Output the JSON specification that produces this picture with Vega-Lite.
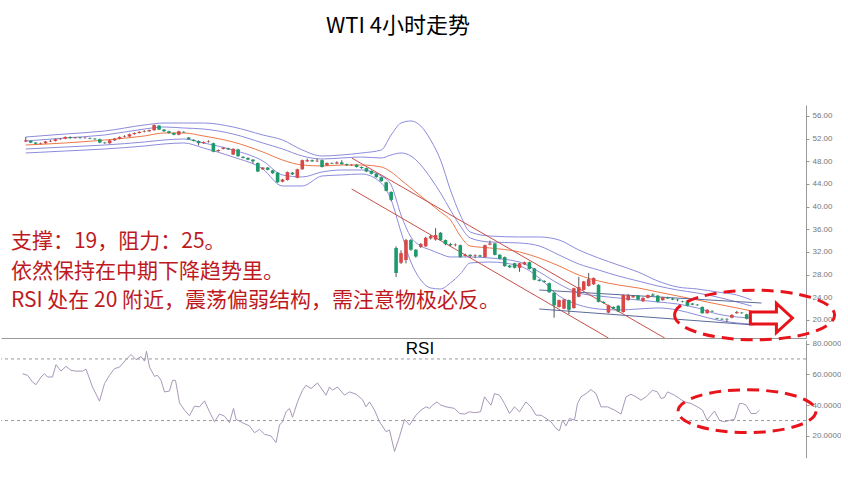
{
  "$schema": "https://vega.github.io/schema/vega-lite/v6.json",
  "background": "white",
  "padding": {"left": 0, "top": 15, "right": 0, "bottom": 0},
  "bounds": "flush",
  "spacing": 2,
  "title": {"text": "WTI 4小时走势", "anchor": "start", "frame": "group", "dx": 325, "offset": 67, "fontSize": 22, "font": "Noto Sans CJK SC", "fontWeight": "normal", "color": "#000000"},
  "datasets": {
    "candles": [
      {"t":0,"o":51.5,"c":51.7,"h":52.3,"l":51.4},{"t":1,"o":51.6,"c":51.3,"h":51.7,"l":51.2},{"t":2,"o":51.3,"c":51.1,"h":51.4,"l":51.0},{"t":3,"o":51.1,"c":51.2,"h":51.3,"l":51.0},
      {"t":4,"o":51.2,"c":51.5,"h":51.6,"l":51.1},{"t":5,"o":51.5,"c":51.6,"h":51.8,"l":51.4},{"t":6,"o":51.6,"c":51.9,"h":52.0,"l":51.5},{"t":7,"o":51.9,"c":52.0,"h":52.1,"l":51.8},
      {"t":8,"o":52.0,"c":52.3,"h":52.4,"l":51.9},{"t":9,"o":52.3,"c":52.1,"h":52.4,"l":52.0},{"t":10,"o":52.1,"c":52.2,"h":52.3,"l":52.0},{"t":11,"o":52.2,"c":52.1,"h":52.3,"l":52.0},
      {"t":12,"o":52.1,"c":52.15,"h":52.3,"l":52.0},{"t":13,"o":52.1,"c":52.0,"h":52.2,"l":51.9},{"t":14,"o":52.0,"c":51.9,"h":52.1,"l":51.8},{"t":15,"o":51.9,"c":51.3,"h":52.0,"l":51.2},
      {"t":16,"o":51.3,"c":51.2,"h":51.4,"l":51.1},{"t":17,"o":51.2,"c":51.7,"h":51.8,"l":51.1},{"t":18,"o":51.7,"c":52.0,"h":52.1,"l":51.6},{"t":19,"o":52.0,"c":52.3,"h":52.4,"l":51.9},
      {"t":20,"o":52.3,"c":52.4,"h":52.6,"l":52.2},{"t":21,"o":52.4,"c":52.8,"h":52.9,"l":52.3},{"t":22,"o":52.8,"c":53.0,"h":53.1,"l":52.7},{"t":23,"o":53.0,"c":53.2,"h":53.3,"l":52.9},
      {"t":24,"o":53.2,"c":53.3,"h":53.5,"l":53.1},{"t":25,"o":53.3,"c":53.5,"h":53.6,"l":53.2},{"t":26,"o":53.5,"c":54.4,"h":54.5,"l":53.4},{"t":27,"o":54.3,"c":53.6,"h":54.4,"l":53.5},
      {"t":28,"o":53.6,"c":53.3,"h":53.7,"l":53.2},{"t":29,"o":53.3,"c":53.0,"h":53.4,"l":52.9},{"t":30,"o":53.0,"c":52.7,"h":53.1,"l":52.6},{"t":31,"o":52.7,"c":53.3,"h":53.4,"l":52.6},
      {"t":32,"o":53.2,"c":53.1,"h":53.3,"l":53.0},{"t":33,"o":52.2,"c":51.9,"h":52.3,"l":51.8},{"t":34,"o":51.8,"c":51.6,"h":51.9,"l":51.5},{"t":35,"o":51.6,"c":51.2,"h":51.7,"l":50.8},
      {"t":36,"o":51.2,"c":51.4,"h":51.5,"l":51.1},{"t":37,"o":51.4,"c":51.5,"h":51.7,"l":51.3},{"t":38,"o":51.2,"c":49.7,"h":51.3,"l":49.6},{"t":39,"o":49.8,"c":50.0,"h":50.1,"l":49.7},
      {"t":40,"o":50.2,"c":50.4,"h":50.5,"l":50.1},{"t":41,"o":50.3,"c":50.1,"h":50.4,"l":50.0},{"t":42,"o":49.2,"c":50.2,"h":50.3,"l":49.1},{"t":43,"o":50.1,"c":48.9,"h":50.2,"l":48.8},
      {"t":44,"o":48.8,"c":48.6,"h":48.9,"l":48.5},{"t":45,"o":48.6,"c":48.3,"h":48.7,"l":48.2},{"t":46,"o":48.3,"c":48.0,"h":48.4,"l":47.6},{"t":47,"o":47.7,"c":46.2,"h":47.8,"l":46.1},
      {"t":48,"o":46.6,"c":46.9,"h":47.0,"l":46.5},{"t":49,"o":46.9,"c":46.5,"h":47.0,"l":46.4},{"t":50,"o":46.4,"c":45.9,"h":46.5,"l":45.8},{"t":51,"o":46.0,"c":44.3,"h":46.1,"l":44.2},
      {"t":52,"o":44.4,"c":44.8,"h":44.9,"l":44.3},{"t":53,"o":44.7,"c":46.1,"h":46.2,"l":44.6},{"t":54,"o":46.0,"c":45.7,"h":46.1,"l":45.6},{"t":55,"o":45.1,"c":46.6,"h":46.7,"l":45.0},
      {"t":56,"o":46.6,"c":48.2,"h":48.3,"l":46.5},{"t":57,"o":48.0,"c":48.2,"h":48.5,"l":47.9},{"t":58,"o":48.2,"c":48.0,"h":48.3,"l":47.9},{"t":59,"o":48.0,"c":48.1,"h":48.5,"l":47.9},
      {"t":60,"o":48.2,"c":47.0,"h":48.3,"l":46.9},{"t":61,"o":47.3,"c":47.7,"h":47.8,"l":47.2},{"t":62,"o":47.7,"c":47.6,"h":47.8,"l":47.5},{"t":63,"o":47.6,"c":47.8,"h":48.0,"l":47.5},
      {"t":64,"o":47.8,"c":47.5,"h":48.2,"l":47.4},{"t":65,"o":47.5,"c":47.3,"h":47.6,"l":47.2},{"t":66,"o":47.3,"c":47.4,"h":47.5,"l":47.2},{"t":67,"o":47.4,"c":47.0,"h":47.5,"l":46.9},
      {"t":68,"o":47.0,"c":46.8,"h":47.1,"l":46.7},{"t":69,"o":46.8,"c":46.2,"h":46.9,"l":46.1},{"t":70,"o":46.3,"c":45.8,"h":46.4,"l":45.7},{"t":71,"o":45.8,"c":45.2,"h":45.9,"l":45.1},
      {"t":72,"o":45.2,"c":44.5,"h":45.3,"l":44.4},{"t":73,"o":44.3,"c":42.8,"h":44.4,"l":42.7},{"t":74,"o":42.6,"c":41.2,"h":42.7,"l":41.0},{"t":75,"o":32.7,"c":28.3,"h":33.0,"l":27.6},
      {"t":76,"o":30.1,"c":31.8,"h":32.3,"l":29.9},{"t":77,"o":30.6,"c":34.1,"h":34.3,"l":30.0},{"t":78,"o":34.1,"c":32.4,"h":34.3,"l":32.2},{"t":79,"o":32.4,"c":31.2,"h":32.5,"l":31.0},
      {"t":80,"o":32.9,"c":33.4,"h":33.6,"l":32.7},{"t":81,"o":33.0,"c":34.5,"h":34.7,"l":32.9},{"t":82,"o":34.4,"c":34.8,"h":35.0,"l":34.2},{"t":83,"o":34.2,"c":35.0,"h":36.2,"l":34.0},
      {"t":84,"o":35.4,"c":34.1,"h":35.5,"l":34.0},{"t":85,"o":34.1,"c":33.4,"h":34.2,"l":33.2},{"t":86,"o":33.4,"c":33.2,"h":33.6,"l":33.0},{"t":87,"o":33.2,"c":33.3,"h":33.5,"l":33.0},
      {"t":88,"o":33.2,"c":31.1,"h":33.3,"l":31.0},{"t":89,"o":31.3,"c":31.5,"h":31.7,"l":31.2},{"t":90,"o":31.5,"c":31.3,"h":31.6,"l":31.0},{"t":91,"o":31.3,"c":31.4,"h":31.6,"l":30.9},
      {"t":92,"o":31.4,"c":31.2,"h":31.5,"l":31.1},{"t":93,"o":31.1,"c":33.2,"h":33.3,"l":31.0},{"t":94,"o":33.3,"c":33.5,"h":34.0,"l":33.2},{"t":95,"o":33.5,"c":31.5,"h":33.6,"l":31.4},
      {"t":96,"o":31.5,"c":30.8,"h":31.6,"l":30.7},{"t":97,"o":31.1,"c":29.5,"h":31.2,"l":29.4},{"t":98,"o":29.6,"c":29.3,"h":29.7,"l":29.2},{"t":99,"o":30.0,"c":29.2,"h":30.1,"l":29.1},
      {"t":100,"o":29.2,"c":30.0,"h":30.1,"l":28.5},{"t":101,"o":29.8,"c":30.2,"h":30.3,"l":29.7},{"t":102,"o":30.2,"c":29.0,"h":30.3,"l":28.9},{"t":103,"o":29.1,"c":27.1,"h":29.2,"l":27.0},
      {"t":104,"o":27.1,"c":26.9,"h":27.2,"l":26.8},{"t":105,"o":26.9,"c":26.7,"h":27.0,"l":26.6},{"t":106,"o":26.5,"c":24.9,"h":26.6,"l":24.8},{"t":107,"o":24.8,"c":22.6,"h":24.9,"l":20.4},
      {"t":108,"o":22.3,"c":23.5,"h":23.6,"l":22.2},{"t":109,"o":22.0,"c":23.6,"h":23.7,"l":21.9},{"t":110,"o":23.5,"c":21.8,"h":23.6,"l":21.0},{"t":111,"o":22.1,"c":25.6,"h":25.7,"l":22.0},
      {"t":112,"o":24.1,"c":25.8,"h":27.6,"l":24.0},{"t":113,"o":25.3,"c":26.8,"h":26.9,"l":25.2},{"t":114,"o":26.0,"c":27.2,"h":28.3,"l":25.9},{"t":115,"o":26.3,"c":27.4,"h":27.5,"l":26.2},
      {"t":116,"o":26.2,"c":23.2,"h":26.3,"l":23.1},{"t":117,"o":23.2,"c":23.0,"h":23.3,"l":22.9},{"t":118,"o":21.3,"c":22.6,"h":22.7,"l":21.2},{"t":119,"o":22.3,"c":22.0,"h":22.4,"l":21.9},
      {"t":120,"o":22.5,"c":21.5,"h":22.6,"l":21.4},{"t":121,"o":21.4,"c":24.4,"h":24.5,"l":21.3},{"t":122,"o":23.5,"c":24.4,"h":24.6,"l":23.4},{"t":123,"o":24.0,"c":24.2,"h":24.4,"l":23.9},
      {"t":124,"o":24.3,"c":23.6,"h":24.4,"l":23.5},{"t":125,"o":23.3,"c":23.9,"h":24.0,"l":23.2},{"t":126,"o":23.9,"c":24.4,"h":24.5,"l":23.8},{"t":127,"o":24.5,"c":24.3,"h":24.7,"l":24.2},
      {"t":128,"o":24.3,"c":23.2,"h":24.4,"l":23.1},{"t":129,"o":23.5,"c":24.0,"h":24.1,"l":23.4},{"t":130,"o":24.0,"c":23.8,"h":24.1,"l":23.7},{"t":131,"o":23.8,"c":23.6,"h":23.9,"l":23.5},
      {"t":132,"o":23.6,"c":23.5,"h":23.7,"l":23.3},{"t":133,"o":23.3,"c":23.2,"h":23.4,"l":23.1},{"t":134,"o":23.3,"c":22.5,"h":23.4,"l":22.4},{"t":135,"o":22.9,"c":22.7,"h":23.0,"l":22.6},
      {"t":136,"o":22.7,"c":22.6,"h":22.8,"l":22.5},{"t":137,"o":22.3,"c":21.2,"h":22.4,"l":21.1},{"t":138,"o":21.2,"c":21.8,"h":21.9,"l":21.1},{"t":139,"o":21.6,"c":21.5,"h":21.7,"l":21.4},
      {"t":140,"o":20.3,"c":20.2,"h":20.4,"l":20.1},{"t":141,"o":20.2,"c":20.1,"h":20.3,"l":20.0},{"t":142,"o":20.2,"c":20.1,"h":20.3,"l":19.6},{"t":143,"o":20.4,"c":20.9,"h":21.0,"l":20.3},
      {"t":144,"o":21.2,"c":21.4,"h":21.6,"l":21.1},{"t":145,"o":21.3,"c":21.2,"h":21.4,"l":21.1},{"t":146,"o":21.0,"c":20.2,"h":21.1,"l":20.1},{"t":147,"o":20.3,"c":20.4,"h":20.5,"l":20.2}
    ],
    "bands": [
      {"t":0,"u2":52.29,"u1":51.59,"m":50.88,"l1":50.18,"l2":49.47},
      {"t":8,"u2":52.82,"u1":52.12,"m":51.24,"l1":50.53,"l2":49.82},
      {"t":16,"u2":53.35,"u1":52.65,"m":51.76,"l1":50.88,"l2":50.18},
      {"t":24,"u2":54.41,"u1":53.70,"m":52.47,"l1":51.41,"l2":50.70},
      {"t":28,"u2":54.76,"u1":54.06,"m":53.00,"l1":51.76,"l2":51.06},
      {"t":32,"u2":54.76,"u1":53.88,"m":53.00,"l1":51.94,"l2":51.24},
      {"t":36,"u2":54.76,"u1":53.70,"m":52.47,"l1":51.24,"l2":50.35},
      {"t":42,"u2":54.06,"u1":52.82,"m":51.41,"l1":50.00,"l2":48.76},
      {"t":48,"u2":52.65,"u1":51.24,"m":49.65,"l1":48.06,"l2":46.65},
      {"t":52,"u2":51.76,"u1":50.18,"m":48.23,"l1":45.59,"l2":43.65},
      {"t":56,"u2":50.00,"u1":48.94,"m":47.35,"l1":45.24,"l2":43.65},
      {"t":60,"u2":48.94,"u1":48.41,"m":47.18,"l1":46.12,"l2":45.41},
      {"t":64,"u2":49.12,"u1":48.59,"m":47.35,"l1":46.47,"l2":45.59},
      {"t":68,"u2":49.47,"u1":48.76,"m":47.35,"l1":46.47,"l2":45.76},
      {"t":72,"u2":50.00,"u1":48.59,"m":47.00,"l1":45.41,"l2":44.18},
      {"t":74,"u2":52.65,"u1":49.12,"m":46.12,"l1":43.82,"l2":41.18},
      {"t":76,"u2":54.76,"u1":49.47,"m":44.70,"l1":38.53,"l2":35.53},
      {"t":78,"u2":55.12,"u1":48.94,"m":43.29,"l1":34.65,"l2":30.23},
      {"t":80,"u2":54.23,"u1":47.35,"m":41.88,"l1":33.06,"l2":27.06},
      {"t":82,"u2":51.76,"u1":45.06,"m":40.47,"l1":32.35,"l2":25.65},
      {"t":84,"u2":48.23,"u1":42.41,"m":39.06,"l1":31.65,"l2":25.47},
      {"t":86,"u2":42.94,"u1":39.41,"m":37.65,"l1":31.12,"l2":26.53},
      {"t":88,"u2":38.53,"u1":36.59,"m":34.82,"l1":31.12,"l2":28.12},
      {"t":90,"u2":35.53,"u1":34.47,"m":33.06,"l1":31.12,"l2":30.06},
      {"t":94,"u2":34.82,"u1":33.76,"m":32.71,"l1":30.94,"l2":30.23},
      {"t":100,"u2":34.65,"u1":33.59,"m":32.00,"l1":30.23,"l2":29.53},
      {"t":104,"u2":34.65,"u1":33.06,"m":30.94,"l1":28.47,"l2":27.41},
      {"t":108,"u2":34.12,"u1":31.47,"m":29.53,"l1":26.35,"l2":24.24},
      {"t":112,"u2":32.35,"u1":29.88,"m":27.94,"l1":24.76,"l2":22.65},
      {"t":116,"u2":30.94,"u1":28.82,"m":26.88,"l1":24.24,"l2":21.94},
      {"t":120,"u2":29.70,"u1":27.76,"m":26.18,"l1":23.88,"l2":21.76},
      {"t":124,"u2":28.47,"u1":26.88,"m":25.65,"l1":23.53,"l2":21.94},
      {"t":128,"u2":26.88,"u1":26.00,"m":24.94,"l1":23.18,"l2":22.12},
      {"t":132,"u2":25.82,"u1":25.29,"m":24.24,"l1":22.82,"l2":21.76},
      {"t":136,"u2":25.47,"u1":24.76,"m":23.53,"l1":22.12,"l2":20.88},
      {"t":140,"u2":24.94,"u1":24.06,"m":22.82,"l1":21.06,"l2":20.00},
      {"t":144,"u2":24.41,"u1":23.18,"m":22.12,"l1":20.53,"l2":19.47},
      {"t":147,"u2":23.53,"u1":22.47,"m":21.59,"l1":20.35,"l2":19.29}
    ],
    "trend": [
      {"id":"T1","t":66,"p":43.12},{"id":"T1","t":118,"p":16.82},
      {"id":"T2","t":66,"p":48.59},{"id":"T2","t":129.4,"p":16.82}
    ],
    "chan": [
      {"id":"C1","t":104,"p":25.29},{"id":"C1","t":149,"p":22.99},
      {"id":"C2","t":104,"p":21.94},{"id":"C2","t":147.4,"p":19.12}
    ],
    "notes": [
      {"t":-3,"p":33.76,"txt":"支撑：19，阻力：25。"},
      {"t":-3,"p":28.47,"txt":"依然保持在中期下降趋势里。"},
      {"t":-3,"p":23.35,"txt":"RSI 处在 20 附近，震荡偏弱结构，需注意物极必反。"}
    ],
    "mark1": [{"t":147.6,"p":20.88}],
    "arrow": [{"t":151,"p":20.35}],
    "rsi": [
      {"t":0.3,"r":60.4},{"t":1.3,"r":59.4},{"t":2.3,"r":55.0},{"t":3.0,"r":53.3},{"t":4.0,"r":58.3},{"t":4.7,"r":60.4},{"t":5.3,"r":58.3},{"t":6.3,"r":58.3},
      {"t":7.0,"r":66.3},{"t":8.0,"r":62.1},{"t":9.0,"r":65.2},{"t":10.0,"r":62.6},{"t":11.0,"r":62.1},{"t":12.3,"r":62.1},{"t":13.0,"r":63.4},{"t":14.3,"r":51.8},
      {"t":15.7,"r":42.6},{"t":16.7,"r":54.0},{"t":17.7,"r":59.4},{"t":18.7,"r":63.7},{"t":19.7,"r":64.7},{"t":21.0,"r":69.5},{"t":22.0,"r":72.9},{"t":23.0,"r":69.5},
      {"t":24.0,"r":71.6},{"t":24.7,"r":68.6},{"t":25.1,"r":75.0},{"t":25.7,"r":64.7},{"t":26.7,"r":58.7},{"t":27.3,"r":59.4},{"t":28.0,"r":56.1},{"t":28.7,"r":48.6},
      {"t":29.7,"r":49.2},{"t":30.3,"r":56.1},{"t":30.9,"r":56.1},{"t":31.7,"r":41.5},{"t":32.7,"r":36.8},{"t":33.7,"r":33.1},{"t":34.7,"r":39.4},{"t":35.7,"r":38.9},
      {"t":36.7,"r":42.8},{"t":37.7,"r":35.7},{"t":38.7,"r":29.2},{"t":39.7,"r":34.2},{"t":40.7,"r":32.9},{"t":41.7,"r":28.6},{"t":42.5,"r":37.9},{"t":43.0,"r":30.8},
      {"t":44.3,"r":28.6},{"t":45.7,"r":26.5},{"t":46.7,"r":22.1},{"t":47.7,"r":24.3},{"t":48.7,"r":21.1},{"t":50.0,"r":20.0},{"t":51.0,"r":15.7},{"t":51.7,"r":27.1},
      {"t":52.3,"r":29.2},{"t":53.0,"r":35.7},{"t":53.7,"r":37.9},{"t":54.3,"r":32.1},{"t":55.3,"r":42.1},{"t":56.3,"r":49.7},{"t":57.0,"r":52.9},{"t":58.0,"r":50.8},
      {"t":59.3,"r":54.4},{"t":61.0,"r":46.5},{"t":61.7,"r":51.8},{"t":62.3,"r":49.7},{"t":63.3,"r":51.8},{"t":64.7,"r":46.5},{"t":65.7,"r":48.6},{"t":67.0,"r":47.1},
      {"t":68.3,"r":43.6},{"t":69.0,"r":38.9},{"t":69.7,"r":42.1},{"t":70.7,"r":36.8},{"t":71.7,"r":29.2},{"t":73.0,"r":22.8},{"t":73.7,"r":23.9},{"t":74.7,"r":9.9},
      {"t":75.7,"r":19.6},{"t":76.7,"r":30.8},{"t":77.7,"r":27.1},{"t":79.0,"r":33.5},{"t":80.0,"r":36.8},{"t":81.0,"r":38.9},{"t":81.7,"r":37.9},{"t":82.3,"r":40.0},
      {"t":83.2,"r":42.1},{"t":84.0,"r":40.0},{"t":85.0,"r":38.9},{"t":86.7,"r":37.9},{"t":87.7,"r":34.6},{"t":88.7,"r":34.2},{"t":89.7,"r":35.7},{"t":90.7,"r":35.1},
      {"t":91.9,"r":35.7},{"t":92.7,"r":45.4},{"t":93.3,"r":42.8},{"t":94.0,"r":40.0},{"t":94.7,"r":47.5},{"t":95.7,"r":46.5},{"t":96.7,"r":41.1},{"t":97.7,"r":34.6},
      {"t":98.7,"r":38.9},{"t":99.7,"r":35.7},{"t":101.0,"r":42.1},{"t":102.0,"r":38.9},{"t":103.0,"r":33.5},{"t":104.0,"r":33.5},{"t":105.0,"r":31.4},{"t":106.0,"r":29.2},
      {"t":107.0,"r":24.9},{"t":107.7,"r":23.4},{"t":108.3,"r":30.3},{"t":109.0,"r":26.5},{"t":109.7,"r":31.4},{"t":110.7,"r":30.3},{"t":111.3,"r":41.1},{"t":112.0,"r":45.4},
      {"t":113.0,"r":47.5},{"t":114.0,"r":50.1},{"t":115.0,"r":47.5},{"t":116.0,"r":38.9},{"t":117.3,"r":38.9},{"t":118.7,"r":36.8},{"t":120.0,"r":34.2},{"t":121.0,"r":45.4},
      {"t":122.0,"r":47.1},{"t":123.0,"r":45.4},{"t":124.0,"r":43.2},{"t":125.0,"r":45.4},{"t":126.3,"r":49.7},{"t":127.3,"r":48.6},{"t":128.0,"r":44.3},{"t":128.7,"r":45.0},
      {"t":129.3,"r":48.6},{"t":130.7,"r":46.5},{"t":131.7,"r":44.3},{"t":132.7,"r":42.1},{"t":134.0,"r":41.1},{"t":135.3,"r":38.9},{"t":136.3,"r":36.8},{"t":137.2,"r":30.3},
      {"t":138.0,"r":33.5},{"t":138.7,"r":36.2},{"t":139.7,"r":30.1},{"t":140.7,"r":29.2},{"t":141.7,"r":30.1},{"t":142.7,"r":30.8},{"t":143.7,"r":41.1},{"t":144.3,"r":41.1},
      {"t":145.0,"r":40.0},{"t":146.0,"r":34.6},{"t":147.0,"r":34.6},{"t":147.7,"r":36.8}
    ],
    "levels": [{"r":70},{"r":30}],
    "rsilabel": [{"t":79.8,"r":76.4,"txt":"RSI"}],
    "mark2": [{"t":145.2,"r":36.1}]
  },
  "vconcat": [
    {
      "width": 805,
      "height": 233,
      "encoding": {
        "x": {"field": "t", "type": "quantitative", "scale": {"domain": [-4, 157], "nice": false, "zero": false}, "axis": {"labels": false, "ticks": false, "title": null, "domainColor": "#999999", "grid": false}}
      },
      "layer": [
        {
          "data": {"name": "bands"},
          "transform": [{"fold": ["u2", "u1", "l1", "l2"], "as": ["k", "p"]}],
          "mark": {"type": "line", "interpolate": "monotone", "color": "#8c8cdc", "strokeWidth": 1},
          "encoding": {
            "y": {"field": "p", "type": "quantitative", "title": null, "scale": {"domain": [16.82, 57.94], "nice": false, "zero": false}, "axis": {"orient": "right", "values": [20, 24, 28, 32, 36, 40, 44, 48, 52, 56], "format": ".2f"}},
            "detail": {"field": "k"}
          }
        },
        {
          "data": {"name": "bands"},
          "mark": {"type": "line", "interpolate": "monotone", "color": "#ec7848", "strokeWidth": 1},
          "encoding": {
            "y": {"field": "m", "type": "quantitative", "title": null, "scale": {"domain": [16.82, 57.94], "nice": false, "zero": false}, "axis": {"orient": "right", "values": [20, 24, 28, 32, 36, 40, 44, 48, 52, 56], "format": ".2f"}}
          }
        },
        {
          "data": {"name": "trend"},
          "mark": {"type": "line", "color": "#c8504a", "strokeWidth": 1, "clip": true},
          "encoding": {
            "y": {"field": "p", "type": "quantitative", "title": null, "scale": {"domain": [16.82, 57.94], "nice": false, "zero": false}, "axis": {"orient": "right", "values": [20, 24, 28, 32, 36, 40, 44, 48, 52, 56], "format": ".2f"}},
            "detail": {"field": "id"}
          }
        },
        {
          "data": {"name": "chan"},
          "mark": {"type": "line", "color": "#5b6b9b", "strokeWidth": 1},
          "encoding": {
            "y": {"field": "p", "type": "quantitative", "title": null, "scale": {"domain": [16.82, 57.94], "nice": false, "zero": false}, "axis": {"orient": "right", "values": [20, 24, 28, 32, 36, 40, 44, 48, 52, 56], "format": ".2f"}},
            "detail": {"field": "id"}
          }
        },
        {
          "data": {"name": "candles"},
          "mark": {"type": "rule", "color": "#555555", "strokeWidth": 1},
          "encoding": {
            "y": {"field": "l", "type": "quantitative", "title": null, "scale": {"domain": [16.82, 57.94], "nice": false, "zero": false}, "axis": {"orient": "right", "values": [20, 24, 28, 32, 36, 40, 44, 48, 52, 56], "format": ".2f"}},
            "y2": {"field": "h"}
          }
        },
        {
          "data": {"name": "candles"},
          "mark": {"type": "bar", "width": 3.6},
          "encoding": {
            "y": {"field": "o", "type": "quantitative", "title": null, "scale": {"domain": [16.82, 57.94], "nice": false, "zero": false}, "axis": {"orient": "right", "values": [20, 24, 28, 32, 36, 40, 44, 48, 52, 56], "format": ".2f"}},
            "y2": {"field": "c"},
            "color": {"condition": {"test": "datum.c >= datum.o", "value": "#d94848"}, "value": "#1d9a6c"}
          }
        },
        {
          "data": {"name": "notes"},
          "mark": {"type": "text", "align": "left", "baseline": "middle", "font": "Noto Sans CJK SC", "fontSize": 21, "color": "#be1a1e"},
          "encoding": {
            "y": {"field": "p", "type": "quantitative", "title": null, "scale": {"domain": [16.82, 57.94], "nice": false, "zero": false}, "axis": {"orient": "right", "values": [20, 24, 28, 32, 36, 40, 44, 48, 52, 56], "format": ".2f"}},
            "text": {"field": "txt"}
          }
        },
        {
          "data": {"name": "mark1"},
          "mark": {"type": "point", "shape": "M -1 0 C -1 -0.171 -0.552 -0.31 0 -0.31 C 0.552 -0.31 1 -0.171 1 0 C 1 0.171 0.552 0.31 0 0.31 C -0.552 0.31 -1 0.171 -1 0 Z", "size": 25600, "filled": false, "stroke": "#e8141c", "strokeWidth": 3, "strokeDash": [12, 7], "opacity": 1},
          "encoding": {
            "y": {"field": "p", "type": "quantitative", "title": null, "scale": {"domain": [16.82, 57.94], "nice": false, "zero": false}, "axis": {"orient": "right", "values": [20, 24, 28, 32, 36, 40, 44, 48, 52, 56], "format": ".2f"}}
          }
        },
        {
          "data": {"name": "arrow"},
          "mark": {"type": "point", "shape": "M -1 -0.29 L 0.24 -0.29 L 0.24 -0.69 L 1 0 L 0.24 0.69 L 0.24 0.29 L -1 0.29 Z", "size": 1764, "filled": true, "fill": "#ffffff", "stroke": "#e8141c", "strokeWidth": 3, "opacity": 1},
          "encoding": {
            "y": {"field": "p", "type": "quantitative", "title": null, "scale": {"domain": [16.82, 57.94], "nice": false, "zero": false}, "axis": {"orient": "right", "values": [20, 24, 28, 32, 36, 40, 44, 48, 52, 56], "format": ".2f"}}
          }
        }
      ]
    },
    {
      "width": 805,
      "height": 118,
      "layer": [
        {
          "data": {"name": "rsi"},
          "mark": {"type": "line", "color": "#a898b8", "strokeWidth": 1},
          "encoding": {
            "x": {"field": "t", "type": "quantitative", "scale": {"domain": [-4, 157], "nice": false, "zero": false}, "axis": {"labels": false, "ticks": false, "title": null, "domainColor": "#999999", "grid": false}},
            "y": {"field": "r", "type": "quantitative", "title": null, "scale": {"domain": [5.7, 82.3], "nice": false, "zero": false}, "axis": {"orient": "right", "values": [20, 40, 60, 80], "format": ".4f"}}
          }
        },
        {
          "data": {"name": "levels"},
          "mark": {"type": "rule", "color": "#999999", "strokeWidth": 1, "strokeDash": [3, 3]},
          "encoding": {
            "y": {"field": "r", "type": "quantitative", "title": null, "scale": {"domain": [5.7, 82.3], "nice": false, "zero": false}, "axis": {"orient": "right", "values": [20, 40, 60, 80], "format": ".4f"}}
          }
        },
        {
          "data": {"name": "rsilabel"},
          "mark": {"type": "text", "align": "center", "baseline": "middle", "font": "Liberation Sans", "fontSize": 17, "color": "#000000"},
          "encoding": {
            "x": {"field": "t", "type": "quantitative", "title": null, "scale": {"domain": [-4, 157], "nice": false, "zero": false}, "axis": {"labels": false, "ticks": false, "title": null, "domainColor": "#999999", "grid": false}},
            "y": {"field": "r", "type": "quantitative", "title": null, "scale": {"domain": [5.7, 82.3], "nice": false, "zero": false}, "axis": {"orient": "right", "values": [20, 40, 60, 80], "format": ".4f"}},
            "text": {"field": "txt"}
          }
        },
        {
          "data": {"name": "mark2"},
          "mark": {"type": "point", "shape": "M -1 0 C -1 -0.171 -0.552 -0.31 0 -0.31 C 0.552 -0.31 1 -0.171 1 0 C 1 0.171 0.552 0.31 0 0.31 C -0.552 0.31 -1 0.171 -1 0 Z", "size": 19044, "filled": false, "stroke": "#e8141c", "strokeWidth": 3, "strokeDash": [12, 7], "opacity": 1},
          "encoding": {
            "x": {"field": "t", "type": "quantitative", "title": null, "scale": {"domain": [-4, 157], "nice": false, "zero": false}, "axis": {"labels": false, "ticks": false, "title": null, "domainColor": "#999999", "grid": false}},
            "y": {"field": "r", "type": "quantitative", "title": null, "scale": {"domain": [5.7, 82.3], "nice": false, "zero": false}, "axis": {"orient": "right", "values": [20, 40, 60, 80], "format": ".4f"}}
          }
        }
      ]
    }
  ],
  "config": {
    "view": {"stroke": null},
    "axis": {"grid": false, "labelOverlap": false, "labelSeparation": 0},
    "axisY": {"title": null, "labelOverlap": false, "labelFontSize": 8, "labelFont": "Liberation Sans", "labelColor": "#777777", "domainColor": "#999999", "tickColor": "#999999", "tickSize": 3, "labelPadding": 3, "grid": false}
  }
}
